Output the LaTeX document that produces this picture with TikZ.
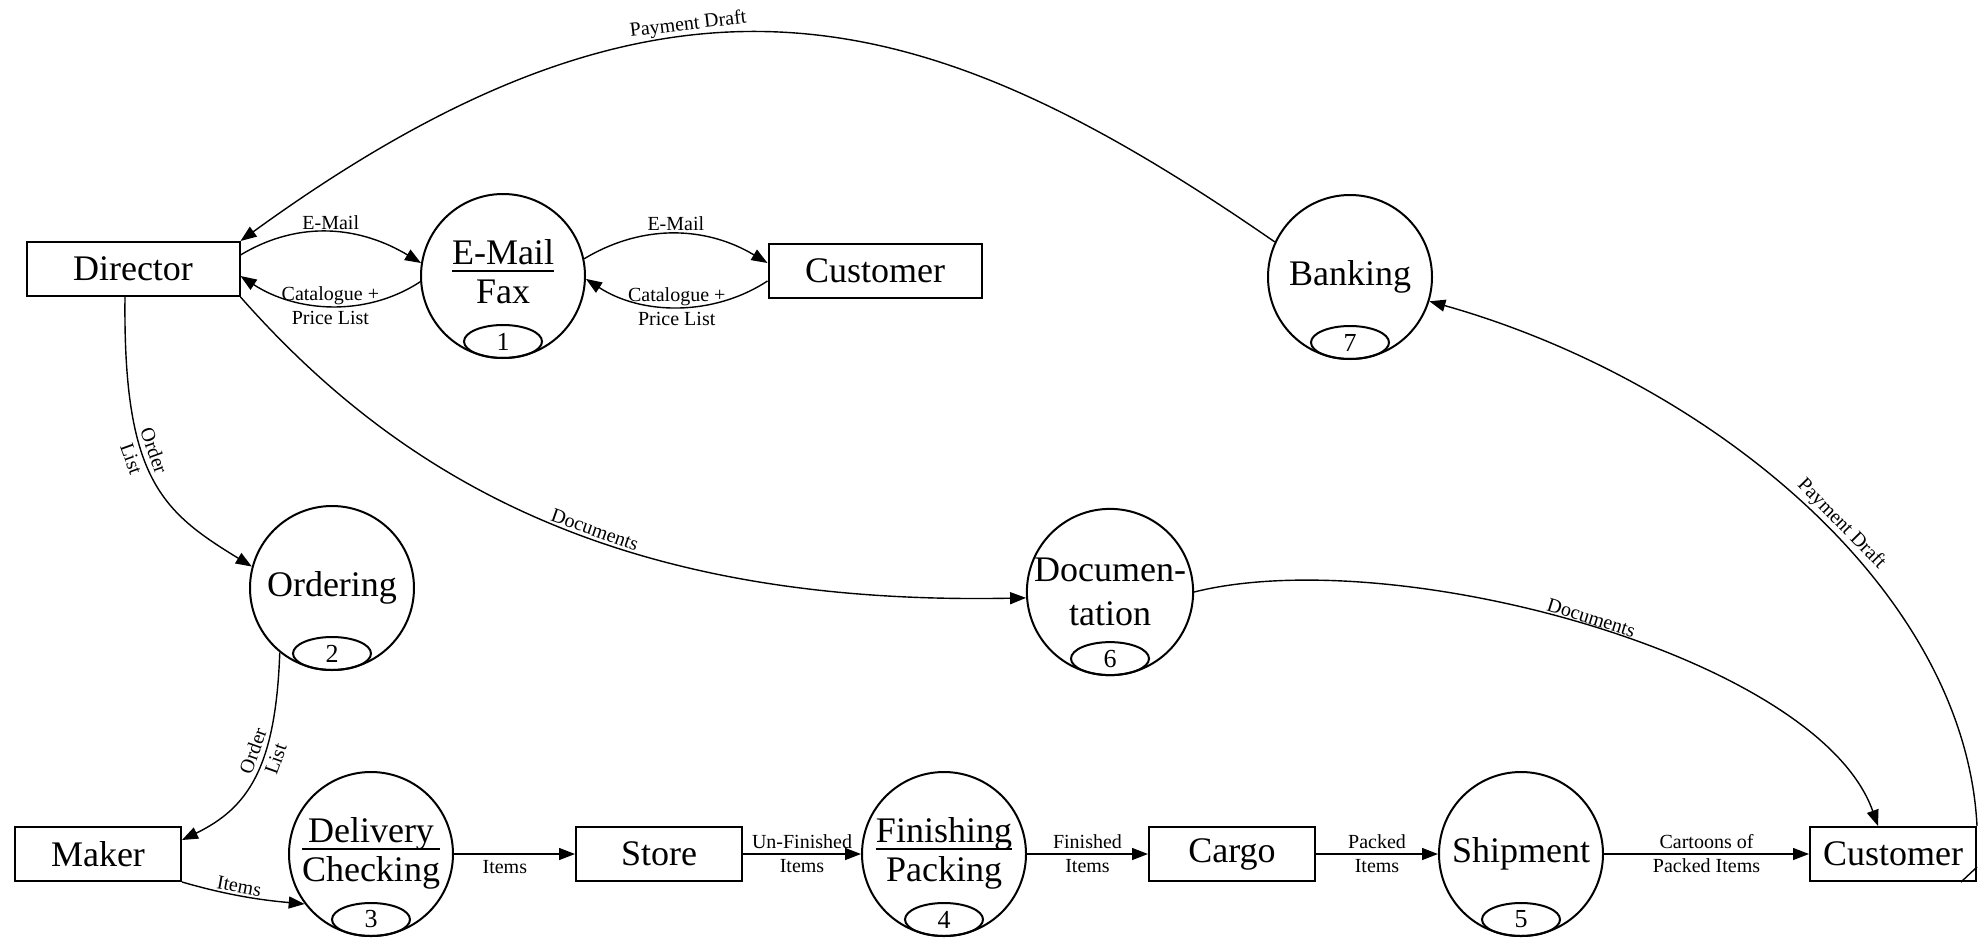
\documentclass[tikz,border=0pt]{standalone}
\usepackage{fontspec}
\setmainfont{Liberation Serif}
\usetikzlibrary{arrows.meta,shapes.geometric}
\setlength{\arrayrulewidth}{0.9pt}
% process name split by a rule
\newcommand{\splitlabel}[2]{\begin{tabular}{@{}c@{}}#1\\[-2.5pt]\hline\rule{0pt}{15.5pt}#2\end{tabular}}

\begin{document}
\begin{tikzpicture}[x=0.5pt,y=-0.5pt,
  entity/.style={draw, line width=1pt, minimum height=27pt, inner sep=2pt,
    font=\fontsize{18}{20}\selectfont},
  wide/.style={entity, minimum width=106.5pt},
  narrow/.style={entity, minimum width=83pt},
  process/.style={draw, circle, line width=1pt, minimum size=82pt, inner sep=0pt,
    align=center, font=\fontsize{18}{19}\selectfont},
  numoval/.style={draw, ellipse, line width=1pt, minimum width=39pt,
    minimum height=16.5pt, inner sep=0pt, anchor=south,
    font=\fontsize{13}{13}\selectfont},
  flow/.style={line width=0.7pt, -{Triangle[length=8pt,width=6pt]}},
  lbl/.style={font=\fontsize{10}{12}\selectfont, inner sep=1pt, align=center},
]
\useasboundingbox (0,0) rectangle (1986,937);

% external entities and processes
\node[wide] (dir) at (133,269) {Director};
\node[process] (em) at (503,276) {\splitlabel{E-Mail}{Fax}};
\node[wide] (cus1) at (875,271) {Customer};
\node[process] (bank) at (1350,277) {Banking};
\node[process] (ord) at (332,588) {Ordering};
\node[process] (doc) at (1110,592) {Documen-\\[3pt]tation};
\node[narrow] (maker) at (98,854) {Maker};
\node[process] (deliv) at (371,854) {\splitlabel{Delivery}{Checking}};
\node[narrow] (store) at (659,854) {Store};
\node[process] (fin) at (944,854) {\splitlabel{Finishing}{Packing}};
\node[narrow] (cargo) at (1232,854) {Cargo};
\node[process] (ship) at (1521,854) {Shipment};
\node[narrow] (cus2) at (1893,854) {Customer};

% process numbers
\node[numoval] (n1) at (em.south) {1};
\node[numoval] (n2) at (ord.south) {2};
\node[numoval] (n3) at (deliv.south) {3};
\node[numoval] (n4) at (fin.south) {4};
\node[numoval] (n5) at (ship.south) {5};
\node[numoval] (n6) at (doc.south) {6};
\node[numoval] (n7) at (bank.south) {7};

% duplicate-entity mark
\draw[line width=0.7pt] ([xshift=-8pt]cus2.south east) -- ([yshift=7.5pt]cus2.south east);

% payment draft back to the director
\draw[flow] (bank.155) .. controls +(-350,-242) and +(430,-312) .. (dir.north east)
  node[lbl, sloped, above, pos=0.6] {Payment Draft};

% director <-> e-mail/fax <-> customer
\draw[flow] ([yshift=7pt]dir.east) .. controls +(60,-36) and +(-60,-36) .. (em.171)
  node[lbl, above, pos=0.5] {E-Mail};
\draw[flow] (em.184) .. controls +(-55,36) and +(55,36) .. ([yshift=-3.5pt]dir.east)
  node[lbl, pos=0.5] {Catalogue +\\Price List};
\draw[flow] (em.12) .. controls +(60,-36) and +(-60,-36) .. ([yshift=4pt]cus1.west)
  node[lbl, above, pos=0.5] {E-Mail};
\draw[flow] ([yshift=-5pt]cus1.west) .. controls +(-55,36) and +(55,36) .. (em.-2)
  node[lbl, pos=0.5] {Catalogue +\\Price List};

% ordering
\draw[flow] ([xshift=-4pt]dir.south) .. controls +(-2,182) and +(-90,-55) .. (ord.165)
  node[lbl, sloped, pos=0.4] {Order\\List};
\draw[flow] (ord.231) .. controls +(-4,115) and +(66,-32) .. ([yshift=7pt]maker.east)
  node[lbl, sloped, pos=0.38] {Order\\List};

% documents
\draw[flow] (dir.south east) .. controls +(165,187) and +(-400,8) .. (doc.184)
  node[lbl, sloped, above, pos=0.56] {Documents};
\draw[flow] (doc.east) .. controls +(200,-50) and +(-60,-170) .. ([xshift=-7.5pt]cus2.north)
  node[lbl, sloped, above, pos=0.5] {Documents};

% payment draft from the customer
\draw[flow] (cus2.north east) .. controls +(-12,-237) and +(280,79) .. (bank.-17)
  node[lbl, sloped, above, pos=0.45] {Payment Draft};

% goods flow along the bottom
\draw[flow] (maker.south east) .. controls +(45,13) and +(-45,-4) .. (deliv.217)
  node[lbl, sloped, above, pos=0.45] {Items};
\draw[flow] (deliv.east) -- (store.west) node[lbl, below=2pt, pos=0.42] {Items};
\draw[flow] (store.east) -- (fin.west) node[lbl, midway] {Un-Finished\\Items};
\draw[flow] (fin.east) -- (cargo.west) node[lbl, midway] {Finished\\Items};
\draw[flow] (cargo.east) -- (ship.west) node[lbl, midway] {Packed\\Items};
\draw[flow] (ship.east) -- (cus2.west) node[lbl, midway] {Cartoons of\\Packed Items};
\end{tikzpicture}
\end{document}
